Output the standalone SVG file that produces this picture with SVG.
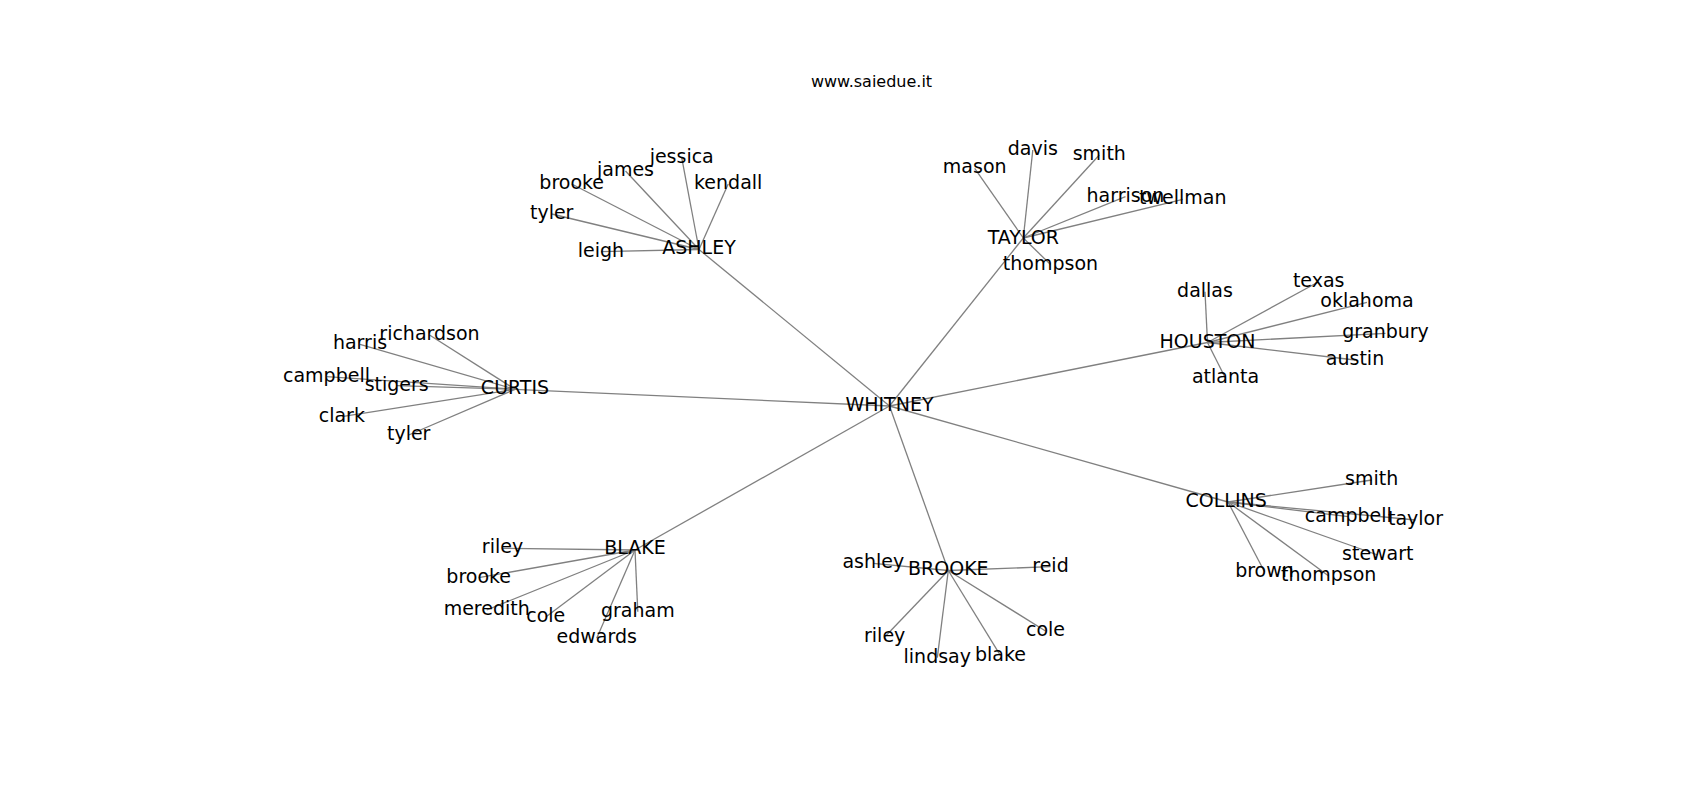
<svg xmlns="http://www.w3.org/2000/svg" width="1700" height="800" viewBox="0 0 1700 800">
<style>
.e{stroke:#808080;stroke-width:1.3;fill:none}
text{font-family:"DejaVu Sans",Verdana,sans-serif;font-size:19px;fill:#000;text-anchor:middle}
.t{font-size:16px}
</style>
<rect width="1700" height="800" fill="#fff"/>
<text class="t" x="871.5" y="87">www.saiedue.it</text>
<g id="connectors">
<line class="e" x1="889.5" y1="406" x2="699" y2="249.5"/>
<line class="e" x1="889.5" y1="406" x2="1023.3" y2="238"/>
<line class="e" x1="889.5" y1="406" x2="1207.5" y2="342.5"/>
<line class="e" x1="889.5" y1="406" x2="515" y2="389.3"/>
<line class="e" x1="889.5" y1="406" x2="635" y2="550"/>
<line class="e" x1="889.5" y1="406" x2="948.3" y2="570.5"/>
<line class="e" x1="889.5" y1="406" x2="1228" y2="502"/>
<line class="e" x1="699" y1="249.5" x2="681.7" y2="157.7"/>
<line class="e" x1="699" y1="249.5" x2="625.5" y2="171"/>
<line class="e" x1="699" y1="249.5" x2="571.7" y2="184"/>
<line class="e" x1="699" y1="249.5" x2="728.2" y2="184"/>
<line class="e" x1="699" y1="249.5" x2="551.7" y2="214"/>
<line class="e" x1="699" y1="249.5" x2="601" y2="251.7"/>
<line class="e" x1="1023.3" y1="238" x2="1032.8" y2="150"/>
<line class="e" x1="1023.3" y1="238" x2="1099.3" y2="155"/>
<line class="e" x1="1023.3" y1="238" x2="974.7" y2="168.3"/>
<line class="e" x1="1023.3" y1="238" x2="1125.5" y2="196.7"/>
<line class="e" x1="1023.3" y1="238" x2="1182.8" y2="199.3"/>
<line class="e" x1="1023.3" y1="238" x2="1050.5" y2="264.5"/>
<line class="e" x1="1207.5" y1="342.5" x2="1205" y2="291.7"/>
<line class="e" x1="1207.5" y1="342.5" x2="1318.7" y2="281.7"/>
<line class="e" x1="1207.5" y1="342.5" x2="1367" y2="302.3"/>
<line class="e" x1="1207.5" y1="342.5" x2="1385.5" y2="333.3"/>
<line class="e" x1="1207.5" y1="342.5" x2="1355" y2="360"/>
<line class="e" x1="1207.5" y1="342.5" x2="1225.5" y2="378.3"/>
<line class="e" x1="515" y1="389.3" x2="429.5" y2="335"/>
<line class="e" x1="515" y1="389.3" x2="360" y2="344.3"/>
<line class="e" x1="515" y1="389.3" x2="326.5" y2="376.7"/>
<line class="e" x1="515" y1="389.3" x2="396.7" y2="385.7"/>
<line class="e" x1="515" y1="389.3" x2="341.8" y2="416.7"/>
<line class="e" x1="515" y1="389.3" x2="408.7" y2="435"/>
<line class="e" x1="635" y1="550" x2="502.5" y2="548.3"/>
<line class="e" x1="635" y1="550" x2="478.7" y2="577.7"/>
<line class="e" x1="635" y1="550" x2="486.7" y2="610"/>
<line class="e" x1="635" y1="550" x2="545.8" y2="617"/>
<line class="e" x1="635" y1="550" x2="637.8" y2="611.7"/>
<line class="e" x1="635" y1="550" x2="596.7" y2="638.3"/>
<line class="e" x1="948.3" y1="570.5" x2="873.3" y2="563.3"/>
<line class="e" x1="948.3" y1="570.5" x2="1050.5" y2="566.7"/>
<line class="e" x1="948.3" y1="570.5" x2="884.7" y2="637"/>
<line class="e" x1="948.3" y1="570.5" x2="937.3" y2="657.7"/>
<line class="e" x1="948.3" y1="570.5" x2="1000.5" y2="655.7"/>
<line class="e" x1="948.3" y1="570.5" x2="1045.5" y2="631"/>
<line class="e" x1="1228" y1="502" x2="1371.7" y2="480"/>
<line class="e" x1="1228" y1="502" x2="1348.3" y2="516.7"/>
<line class="e" x1="1228" y1="502" x2="1415.5" y2="520"/>
<line class="e" x1="1228" y1="502" x2="1377.8" y2="555"/>
<line class="e" x1="1228" y1="502" x2="1264.5" y2="571.7"/>
<line class="e" x1="1228" y1="502" x2="1328.7" y2="576"/>
</g>
<g id="WHITNEY"><text x="889.5" y="411">WHITNEY</text></g>
<g id="ASHLEY"><text x="699" y="254.3">ASHLEY</text></g>
<g id="ASHLEY-jessica"><text x="681.7" y="162.7">jessica</text></g>
<g id="ASHLEY-james"><text x="625.5" y="176">james</text></g>
<g id="ASHLEY-brooke"><text x="571.7" y="189">brooke</text></g>
<g id="ASHLEY-kendall"><text x="728.2" y="189">kendall</text></g>
<g id="ASHLEY-tyler"><text x="551.7" y="219">tyler</text></g>
<g id="ASHLEY-leigh"><text x="601" y="256.7">leigh</text></g>
<g id="TAYLOR"><text x="1023.3" y="244.3">TAYLOR</text></g>
<g id="TAYLOR-davis"><text x="1032.8" y="155">davis</text></g>
<g id="TAYLOR-smith"><text x="1099.3" y="160">smith</text></g>
<g id="TAYLOR-mason"><text x="974.7" y="173.3">mason</text></g>
<g id="TAYLOR-harrison"><text x="1125.5" y="201.7">harrison</text></g>
<g id="TAYLOR-twellman"><text x="1182.8" y="204.3">twellman</text></g>
<g id="TAYLOR-thompson"><text x="1050.5" y="269.5">thompson</text></g>
<g id="HOUSTON"><text x="1207.5" y="348.3">HOUSTON</text></g>
<g id="HOUSTON-dallas"><text x="1205" y="296.7">dallas</text></g>
<g id="HOUSTON-texas"><text x="1318.7" y="286.7">texas</text></g>
<g id="HOUSTON-oklahoma"><text x="1367" y="307.3">oklahoma</text></g>
<g id="HOUSTON-granbury"><text x="1385.5" y="338.3">granbury</text></g>
<g id="HOUSTON-austin"><text x="1355" y="365">austin</text></g>
<g id="HOUSTON-atlanta"><text x="1225.5" y="383.3">atlanta</text></g>
<g id="CURTIS"><text x="515" y="394.3">CURTIS</text></g>
<g id="CURTIS-richardson"><text x="429.5" y="340">richardson</text></g>
<g id="CURTIS-harris"><text x="360" y="349.3">harris</text></g>
<g id="CURTIS-campbell"><text x="326.5" y="381.7">campbell</text></g>
<g id="CURTIS-stigers"><text x="396.7" y="390.7">stigers</text></g>
<g id="CURTIS-clark"><text x="341.8" y="421.7">clark</text></g>
<g id="CURTIS-tyler"><text x="408.7" y="440">tyler</text></g>
<g id="BLAKE"><text x="635" y="554">BLAKE</text></g>
<g id="BLAKE-riley"><text x="502.5" y="553.3">riley</text></g>
<g id="BLAKE-brooke"><text x="478.7" y="582.7">brooke</text></g>
<g id="BLAKE-meredith"><text x="486.7" y="615">meredith</text></g>
<g id="BLAKE-cole"><text x="545.8" y="622">cole</text></g>
<g id="BLAKE-graham"><text x="637.8" y="616.7">graham</text></g>
<g id="BLAKE-edwards"><text x="596.7" y="643.3">edwards</text></g>
<g id="BROOKE"><text x="948.3" y="575">BROOKE</text></g>
<g id="BROOKE-ashley"><text x="873.3" y="568.3">ashley</text></g>
<g id="BROOKE-reid"><text x="1050.5" y="571.7">reid</text></g>
<g id="BROOKE-riley"><text x="884.7" y="642">riley</text></g>
<g id="BROOKE-lindsay"><text x="937.3" y="662.7">lindsay</text></g>
<g id="BROOKE-blake"><text x="1000.5" y="660.7">blake</text></g>
<g id="BROOKE-cole"><text x="1045.5" y="636">cole</text></g>
<g id="COLLINS"><text x="1226.2" y="506.7">COLLINS</text></g>
<g id="COLLINS-smith"><text x="1371.7" y="485">smith</text></g>
<g id="COLLINS-campbell"><text x="1348.3" y="521.7">campbell</text></g>
<g id="COLLINS-taylor"><text x="1415.5" y="525">taylor</text></g>
<g id="COLLINS-stewart"><text x="1377.8" y="560">stewart</text></g>
<g id="COLLINS-brown"><text x="1264.5" y="576.7">brown</text></g>
<g id="COLLINS-thompson"><text x="1328.7" y="581">thompson</text></g>
</svg>
